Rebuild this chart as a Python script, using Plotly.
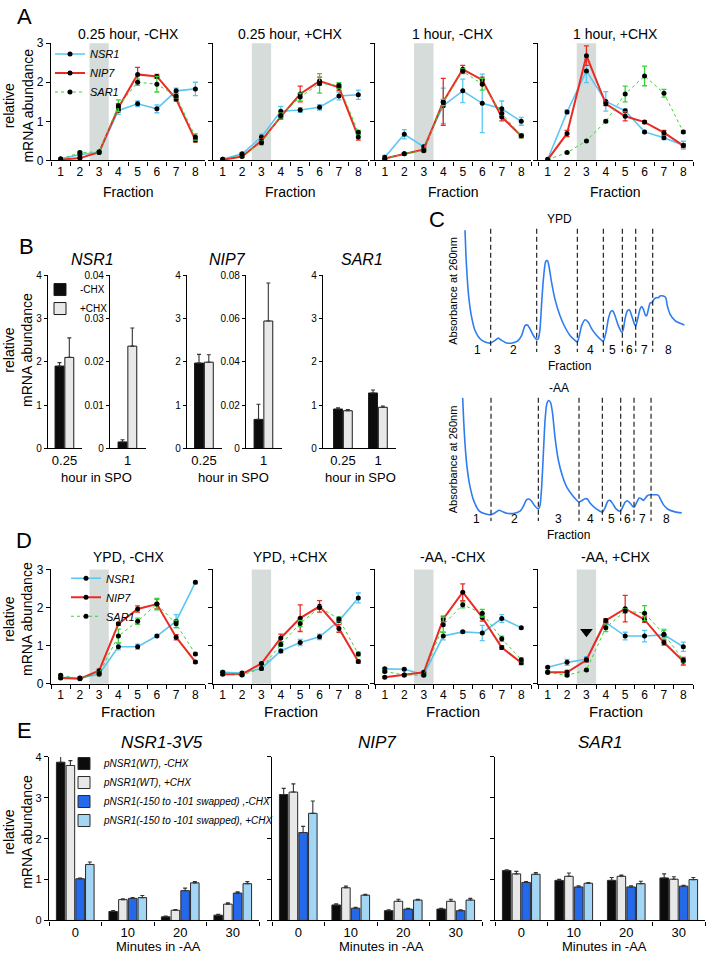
import plotly.graph_objects as go

W, H = 708, 960
FONT = "Liberation Sans, Arial, Helvetica, sans-serif"

# ---------------- Panel A / D : polysome fraction profiles ----------------
FRACTIONS = [1, 2, 3, 4, 5, 6, 7, 8]
GENES = ["NSR1", "NIP7", "SAR1"]
SHADED_FRACTION = [2.5, 3.5]

A_TITLES = ["0.25 hour, -CHX", "0.25 hour, +CHX", "1 hour, -CHX", "1 hour, +CHX"]
A_NSR1 = [[0.04, 0.15, 0.20, 1.28, 1.45, 1.32, 1.78, 1.83],
          [0.03, 0.17, 0.60, 1.26, 1.29, 1.36, 1.65, 1.68],
          [0.08, 0.67, 0.35, 1.40, 1.78, 1.46, 1.32, 1.00],
          [0.03, 1.24, 2.29, 1.51, 1.27, 0.73, 0.58, 0.39]]
A_NSR1_ERR = [[0.02, 0.04, 0.03, 0.10, 0.07, 0.10, 0.07, 0.17],
              [0.01, 0.03, 0.07, 0.12, 0.06, 0.07, 0.10, 0.12],
              [0.05, 0.12, 0.05, 0.45, 0.30, 0.75, 0.20, 0.10],
              [0.02, 0.05, 0.30, 0.25, 0.05, 0.04, 0.05, 0.10]]
A_NIP7 = [[0.02, 0.06, 0.21, 1.35, 2.20, 2.15, 1.57, 0.52],
          [0.02, 0.10, 0.50, 1.12, 1.70, 2.03, 1.87, 0.60],
          [0.05, 0.17, 0.28, 1.50, 2.33, 2.06, 1.11, 0.63],
          [0.02, 0.69, 2.68, 1.45, 1.13, 0.98, 0.71, 0.38]]
A_NIP7_ERR = [[0.01, 0.02, 0.02, 0.10, 0.18, 0.05, 0.05, 0.05],
              [0.01, 0.02, 0.05, 0.06, 0.20, 0.10, 0.08, 0.08],
              [0.02, 0.03, 0.04, 0.60, 0.10, 0.07, 0.10, 0.05],
              [0.01, 0.08, 0.25, 0.05, 0.12, 0.04, 0.06, 0.05]]
A_SAR1 = [[0.03, 0.20, 0.22, 1.40, 2.00, 1.95, 1.65, 0.60],
          [0.03, 0.15, 0.45, 1.15, 1.62, 1.97, 1.92, 0.72],
          [0.05, 0.17, 0.25, 1.48, 2.28, 1.95, 1.20, 0.63],
          [0.02, 0.20, 0.50, 1.00, 1.70, 2.16, 1.72, 0.73]]
A_SAR1_ERR = [[0.01, 0.03, 0.02, 0.15, 0.08, 0.20, 0.05, 0.08],
              [0.01, 0.03, 0.05, 0.06, 0.10, 0.25, 0.07, 0.05],
              [0.02, 0.03, 0.03, 0.08, 0.06, 0.15, 0.05, 0.05],
              [0.01, 0.02, 0.02, 0.03, 0.20, 0.25, 0.10, 0.04]]

D_TITLES = ["YPD, -CHX", "YPD, +CHX", "-AA, -CHX", "-AA, +CHX"]
D_NSR1 = [[0.17, 0.15, 0.25, 0.97, 0.97, 1.25, 1.64, 2.66],
          [0.30, 0.28, 0.40, 0.86, 1.08, 1.23, 1.65, 2.25],
          [0.39, 0.38, 0.24, 1.25, 1.36, 1.33, 1.71, 1.47],
          [0.43, 0.56, 0.64, 1.61, 1.25, 1.25, 1.28, 0.97]]
D_NSR1_ERR = [[0.03, 0.03, 0.04, 0.08, 0.07, 0.03, 0.17, 0.04],
              [0.03, 0.03, 0.03, 0.05, 0.08, 0.07, 0.05, 0.13],
              [0.03, 0.03, 0.03, 0.10, 0.03, 0.20, 0.10, 0.03],
              [0.03, 0.08, 0.07, 0.10, 0.10, 0.15, 0.15, 0.12]]
D_NIP7 = [[0.15, 0.13, 0.34, 1.57, 1.96, 2.09, 1.22, 0.57],
          [0.25, 0.25, 0.53, 1.20, 1.72, 2.03, 1.45, 0.58],
          [0.17, 0.23, 0.30, 1.70, 2.40, 1.74, 0.95, 0.55],
          [0.30, 0.30, 0.62, 1.66, 1.97, 1.68, 1.08, 0.59]]
D_NIP7_ERR = [[0.02, 0.02, 0.04, 0.04, 0.08, 0.13, 0.07, 0.03],
              [0.03, 0.03, 0.03, 0.10, 0.35, 0.15, 0.10, 0.04],
              [0.02, 0.02, 0.03, 0.07, 0.22, 0.10, 0.05, 0.05],
              [0.03, 0.05, 0.05, 0.05, 0.35, 0.07, 0.07, 0.10]]
D_SAR1 = [[0.22, 0.14, 0.27, 1.25, 1.64, 2.09, 1.57, 0.78],
          [0.30, 0.23, 0.40, 1.03, 1.58, 2.00, 1.70, 0.78],
          [0.32, 0.23, 0.22, 1.55, 2.07, 1.85, 1.18, 0.63],
          [0.30, 0.22, 0.36, 1.47, 1.91, 1.85, 1.30, 0.62]]
D_SAR1_ERR = [[0.03, 0.02, 0.03, 0.18, 0.08, 0.15, 0.10, 0.03],
              [0.03, 0.03, 0.03, 0.05, 0.08, 0.05, 0.05, 0.05],
              [0.03, 0.02, 0.03, 0.20, 0.08, 0.10, 0.07, 0.05],
              [0.03, 0.03, 0.03, 0.10, 0.05, 0.20, 0.10, 0.05]]
D_ARROW_FRACTION = [3]
D_ARROW_LEVEL = [1.36]

# ---------------- Panel B ----------------
B_HOURS = ["0.25", "1"]
B_NSR1_MINUS = [1.90, 0.0015]
B_NSR1_MINUS_ERR = [0.08, 0.0005]
B_NSR1_PLUS = [2.10, 0.0236]
B_NSR1_PLUS_ERR = [0.45, 0.0042]
B_NIP7_MINUS = [1.97, 0.0134]
B_NIP7_MINUS_ERR = [0.20, 0.0070]
B_NIP7_PLUS = [1.99, 0.0588]
B_NIP7_PLUS_ERR = [0.17, 0.0175]
B_SAR1_MINUS = [0.91, 1.28]
B_SAR1_MINUS_ERR = [0.03, 0.07]
B_SAR1_PLUS = [0.87, 0.95]
B_SAR1_PLUS_ERR = [0.03, 0.03]

# ---------------- Panel C : A260 profiles ----------------
C_YPD_POS = [285, 288, 292, 297, 305, 315, 330, 345, 362, 375, 385, 395, 410, 430, 445, 455,
             465, 472, 480, 490, 500, 505, 510, 515, 520, 527, 532, 537, 545, 555, 570, 585,
             600, 615, 622, 628, 635, 645, 655, 665, 680, 695, 700, 708, 715, 722, 728, 735,
             745, 755, 760, 765, 772, 778, 785, 793, 797, 803, 810, 815, 820, 826, 830, 835,
             840, 845, 852, 858, 865, 870, 880, 887, 892, 900, 915, 930, 943]
C_YPD_ABS = [360, 280, 210, 150, 95, 55, 30, 20, 17, 25, 32, 25, 17, 18, 25, 40,
             70, 72, 60, 40, 28, 30, 60, 140, 210, 265, 268, 250, 200, 150, 100, 65,
             40, 25, 20, 40, 70, 88, 80, 60, 40, 25, 22, 50, 90, 112, 115, 100,
             70, 50, 60, 90, 115, 118, 100, 75, 68, 90, 120, 128, 120, 102, 100, 120,
             138, 140, 150, 155, 155, 160, 160, 155, 130, 105, 85, 77, 72]
C_YPD_BOUNDS = [362, 500, 622, 700, 757, 797, 848]

C_AA_POS = [278, 281, 285, 291, 300, 312, 328, 345, 363, 375, 387, 397, 410, 430, 450, 460,
            470, 477, 485, 495, 505, 510, 515, 520, 525, 530, 536, 542, 548, 555, 565, 578,
            592, 610, 627, 635, 645, 652, 660, 675, 690, 697, 705, 713, 720, 728, 738, 750,
            757, 765, 772, 780, 788, 793, 800, 808, 815, 820, 826, 832, 840, 848, 860, 866,
            872, 880, 895, 915, 935]
C_AA_ABS = [420, 350, 280, 210, 150, 105, 75, 67, 64, 70, 78, 74, 69, 68, 75, 90,
            110, 112, 105, 90, 82, 92, 150, 250, 350, 400, 412, 405, 370, 300, 230, 180,
            145, 120, 103, 107, 113, 112, 100, 85, 75, 72, 85, 105, 108, 98, 82, 75,
            85, 102, 107, 100, 90, 88, 102, 115, 112, 108, 115, 122, 125, 125, 125, 122,
            110, 95, 80, 73, 70]
C_AA_BOUNDS = [363, 505, 627, 697, 752, 792, 843]
C_FRACTION_LABELS = ["1", "2", "3", "4", "5", "6", "7", "8"]

# ---------------- Panel E ----------------
E_MINUTES = [0, 10, 20, 30]
E_SERIES = ["pNSR1(WT), -CHX", "pNSR1(WT), +CHX",
            "pNSR1(-150 to -101 swapped) ,-CHX", "pNSR1(-150 to -101 swapped), +CHX"]
E_TITLES = ["NSR1-3V5", "NIP7", "SAR1"]
E_NSR1 = [[3.87, 0.22, 0.09, 0.13], [3.79, 0.51, 0.25, 0.40],
          [1.02, 0.54, 0.73, 0.67], [1.37, 0.56, 0.92, 0.90]]
E_NSR1_ERR = [[0.18, 0.02, 0.02, 0.02], [0.12, 0.02, 0.02, 0.03],
              [0.02, 0.02, 0.06, 0.03], [0.06, 0.05, 0.03, 0.05]]
E_NIP7 = [[3.08, 0.38, 0.24, 0.28], [3.14, 0.80, 0.47, 0.47],
          [2.15, 0.30, 0.28, 0.24], [2.62, 0.62, 0.50, 0.50]]
E_NIP7_ERR = [[0.15, 0.03, 0.02, 0.02], [0.20, 0.04, 0.05, 0.05],
              [0.15, 0.02, 0.02, 0.02], [0.30, 0.02, 0.02, 0.04]]
E_SAR1 = [[1.22, 0.98, 0.98, 1.04], [1.14, 1.08, 1.08, 1.01],
          [0.93, 0.82, 0.82, 0.84], [1.13, 0.91, 0.90, 1.00]]
E_SAR1_ERR = [[0.02, 0.03, 0.07, 0.10], [0.06, 0.08, 0.03, 0.06],
              [0.02, 0.03, 0.03, 0.02], [0.04, 0.02, 0.06, 0.05]]

# ======================================================================
LINE_STYLE = {
    "NSR1": dict(color="#5ac6f2", width=1.6, dash="solid"),
    "NIP7": dict(color="#ec2a24", width=2.0, dash="solid"),
    "SAR1": dict(color="#36d436", width=1.0, dash="dot"),
}
BAR_B_COLORS = ["#0c0c0c", "#e8e8e8"]
E_COLORS = ["#0c0c0c", "#e8e8e8", "#2469ea", "#a3d6f5"]

fig = go.Figure()
axes = {}
shapes = []
annotations = []


def ax_keys(n):
    s = "" if n == 1 else str(n)
    return "xaxis" + s, "yaxis" + s, "x" + s, "y" + s


def dom_x(a, b):
    return [a / W, b / W]


def dom_y(top, bottom):
    return [1 - bottom / H, 1 - top / H]


def add_text(text, x, y, size=13, angle=0, italic=False, xanchor="center", yanchor="middle"):
    annotations.append(dict(text=text, x=x / W, y=1 - y / H, xref="paper", yref="paper",
                            showarrow=False, textangle=angle, xanchor=xanchor, yanchor=yanchor,
                            font=dict(size=size, family=FONT, color="black",
                                      style="italic" if italic else "normal")))


AXLINE = dict(showline=True, linecolor="black", linewidth=1.2, showgrid=False,
              zeroline=False, fixedrange=True)

FRAC_X = [(51, 205), (213, 368), (375, 531), (538, 693)]


def fraction_panel(n0, top, bottom, titles, means, errs, legend_key, title_y,
                   frac_title_y, frac_title_size):
    for i in range(4):
        n = n0 + i
        xa, ya, xr, yr = ax_keys(n)
        x0, x1 = FRAC_X[i]
        axes[xa] = dict(domain=dom_x(x0, x1), anchor=yr, range=[0.5, 8.5], tickmode="array",
                        tickvals=FRACTIONS, ticks="", tickfont=dict(size=12),
                        ticklabelstandoff=0,
                        minor=dict(tickmode="linear", tick0=0.5, dtick=1, ticks="outside",
                                   ticklen=4, tickcolor="black", tickwidth=1.2),
                        **AXLINE)
        axes[ya] = dict(domain=dom_y(top, bottom), anchor=xr, range=[0, 3], tickmode="array",
                        tickvals=[0, 1, 2, 3], ticks="outside", ticklen=4, tickcolor="black",
                        tickwidth=1.2, showticklabels=(i == 0),
                        tickfont=dict(size=12), **AXLINE)
        shapes.append(dict(type="rect", xref=xr, yref=yr + " domain",
                           x0=SHADED_FRACTION[0], x1=SHADED_FRACTION[1], y0=0, y1=1,
                           fillcolor="#d5dcda", line_width=0, layer="below"))
        for g in GENES:
            st = LINE_STYLE[g]
            fig.add_trace(go.Scatter(
                x=FRACTIONS, y=means[g][i], mode="lines+markers", name=g,
                line=st, marker=dict(color="black", size=5),
                error_y=dict(type="data", array=errs[g][i], color=st["color"],
                             thickness=1.3, width=2.5),
                xaxis=xr, yaxis=yr, legend=legend_key, showlegend=(i == 0)))
        add_text(titles[i], (x0 + x1) / 2, title_y, size=14)
        add_text("Fraction", (x0 + x1) / 2, frac_title_y, size=frac_title_size)


# ---------------- Panel A ----------------
fraction_panel(1, 36.7, 155.7, A_TITLES,
               {"NSR1": A_NSR1, "NIP7": A_NIP7, "SAR1": A_SAR1},
               {"NSR1": A_NSR1_ERR, "NIP7": A_NIP7_ERR, "SAR1": A_SAR1_ERR},
               "legend", 27, 188, 14)

# ---------------- Panel B ----------------
B_UNIT = 35.0
B_TOP, B_BOT = 272, 448


def b_axes(n, x0, x1, center0, cats, yrange, tickvals, ticktext):
    xa, ya, xr, yr = ax_keys(n)
    axes[xa] = dict(domain=dom_x(x0, x1), anchor=yr, type="category", categoryorder="array",
                    categoryarray=cats, range=[(x0 - center0) / B_UNIT, (x1 - center0) / B_UNIT],
                    ticks="", tickfont=dict(size=13), ticklabelstandoff=0, **AXLINE)
    axes[ya] = dict(domain=dom_y(B_TOP, B_BOT), anchor=xr, range=yrange, tickmode="array",
                    tickvals=tickvals, ticktext=ticktext, ticks="outside", ticklen=3,
                    tickcolor="black", tickwidth=1.1, tickfont=dict(size=10), **AXLINE)
    return xr, yr


def b_bars(xr, yr, cats, minus, minus_err, plus, plus_err, show):
    for vals, errs, color, name, off in ((minus, minus_err, BAR_B_COLORS[0], "-CHX", -0.27),
                                         (plus, plus_err, BAR_B_COLORS[1], "+CHX", 0.01)):
        fig.add_trace(go.Bar(
            x=cats, y=vals, width=0.255, offset=off, name=name,
            marker=dict(color=color, line=dict(color="#1a1a1a", width=1)),
            error_y=dict(type="data", symmetric=False, array=errs, arrayminus=[0] * len(errs),
                         color="#333333", thickness=1.1, width=2),
            xaxis=xr, yaxis=yr, legend="legend2", showlegend=show))


FOUR = [0, 1, 2, 3, 4]
xr, yr = b_axes(5, 48, 82, 64.5, B_HOURS[:1], [0, 4], FOUR, [str(v) for v in FOUR])
b_bars(xr, yr, B_HOURS[:1], B_NSR1_MINUS[:1], B_NSR1_MINUS_ERR[:1],
       B_NSR1_PLUS[:1], B_NSR1_PLUS_ERR[:1], True)
xr, yr = b_axes(6, 110, 146, 127.5, B_HOURS[1:], [0, 0.04],
                [0, 0.01, 0.02, 0.03, 0.04], ["0", "0.01", "0.02", "0.03", "0.04"])
b_bars(xr, yr, B_HOURS[1:], B_NSR1_MINUS[1:], B_NSR1_MINUS_ERR[1:],
       B_NSR1_PLUS[1:], B_NSR1_PLUS_ERR[1:], False)
xr, yr = b_axes(7, 187, 222, 204, B_HOURS[:1], [0, 4], FOUR, [str(v) for v in FOUR])
b_bars(xr, yr, B_HOURS[:1], B_NIP7_MINUS[:1], B_NIP7_MINUS_ERR[:1],
       B_NIP7_PLUS[:1], B_NIP7_PLUS_ERR[:1], False)
xr, yr = b_axes(8, 246, 282, 263.5, B_HOURS[1:], [0, 0.08],
                [0, 0.02, 0.04, 0.06, 0.08], ["0", "0.02", "0.04", "0.06", "0.08"])
b_bars(xr, yr, B_HOURS[1:], B_NIP7_MINUS[1:], B_NIP7_MINUS_ERR[1:],
       B_NIP7_PLUS[1:], B_NIP7_PLUS_ERR[1:], False)
xr, yr = b_axes(9, 323, 396, 343, B_HOURS, [0, 4], FOUR, [str(v) for v in FOUR])
b_bars(xr, yr, B_HOURS, B_SAR1_MINUS, B_SAR1_MINUS_ERR, B_SAR1_PLUS, B_SAR1_PLUS_ERR, False)

add_text("NSR1", 92, 256, size=16, italic=True)
add_text("NIP7", 228, 256, size=16, italic=True)
add_text("SAR1", 362, 256, size=16, italic=True)
for cx in (96, 233, 360):
    add_text("hour in SPO", cx, 477, size=13)

# ---------------- Panel C ----------------


def c_profile(n, top_px, bot_px, yrange, pos, absb, bounds, line_top, line_bot, label_y):
    xa, ya, xr, yr = ax_keys(n)
    axes[xa] = dict(domain=dom_x(455, 691.7), anchor=yr, range=[255, 965], visible=False,
                    fixedrange=True)
    axes[ya] = dict(domain=dom_y(top_px, bot_px), anchor=xr, range=yrange, visible=False,
                    fixedrange=True)
    fig.add_trace(go.Scatter(x=pos, y=absb, mode="lines",
                             line=dict(color="#2f7cf0", width=1.6, shape="spline", smoothing=0.6),
                             showlegend=False, xaxis=xr, yaxis=yr))
    dx, dy = [], []
    for b in bounds:
        dx += [b, b, None]
        dy += [line_top, line_bot, None]
    fig.add_trace(go.Scatter(x=dx, y=dy, mode="lines",
                             line=dict(color="#222222", width=1.2, dash="5px,3px"),
                             showlegend=False, xaxis=xr, yaxis=yr))
    edges = [pos[0]] + bounds + [pos[-1]]
    for k, lab in enumerate(C_FRACTION_LABELS):
        annotations.append(dict(text=lab, x=(edges[k] + edges[k + 1]) / 2, y=label_y,
                                xref=xr, yref=yr, showarrow=False,
                                font=dict(size=12, family=FONT, color="black")))


c_profile(10, 213.3, 370, [-70, 400], C_YPD_POS, C_YPD_ABS, C_YPD_BOUNDS, 365, -10, -3)
c_profile(11, 383.3, 560, [-70, 460], C_AA_POS, C_AA_ABS, C_AA_BOUNDS, 420, 45, 51)
add_text("YPD", 559, 215, size=12)
add_text("-AA", 559, 387, size=12)
add_text("Fraction", 569, 364, size=12)
add_text("Fraction", 568, 536, size=12)
add_text("Absorbance at 260nm", 453, 288, size=11, angle=-90)
add_text("Absorbance at 260nm", 453, 459, size=11, angle=-90)

# ---------------- Panel D ----------------
fraction_panel(12, 570.7, 686.7, D_TITLES,
               {"NSR1": D_NSR1, "NIP7": D_NIP7, "SAR1": D_SAR1},
               {"NSR1": D_NSR1_ERR, "NIP7": D_NIP7_ERR, "SAR1": D_SAR1_ERR},
               "legend3", 558, 715, 15)
fig.add_trace(go.Scatter(x=D_ARROW_FRACTION, y=D_ARROW_LEVEL, mode="markers",
                         marker=dict(symbol="triangle-down", size=11, color="black"),
                         showlegend=False, xaxis="x15", yaxis="y15"))

# ---------------- Panel E ----------------
E_X = [(49, 259), (272, 482), (495, 705)]
E_DATA = [(E_NSR1, E_NSR1_ERR), (E_NIP7, E_NIP7_ERR), (E_SAR1, E_SAR1_ERR)]
for i in range(3):
    n = 16 + i
    xa, ya, xr, yr = ax_keys(n)
    x0, x1 = E_X[i]
    axes[xa] = dict(domain=dom_x(x0, x1), anchor=yr, range=[-5, 35], tickmode="array",
                    tickvals=E_MINUTES, ticks="", tickfont=dict(size=13), ticklabelstandoff=0,
                    minor=dict(tickmode="linear", tick0=-5, dtick=10, ticks="outside",
                               ticklen=4, tickcolor="black", tickwidth=1.2),
                    **AXLINE)
    axes[ya] = dict(domain=dom_y(761, 927), anchor=xr, range=[0, 4], tickmode="array",
                    tickvals=[0, 1, 2, 3, 4], ticks="outside", ticklen=4, tickcolor="black",
                    tickwidth=1.2, showticklabels=(i == 0), tickfont=dict(size=11), **AXLINE)
    vals, errs = E_DATA[i]
    for j in range(4):
        fig.add_trace(go.Bar(
            x=E_MINUTES, y=vals[j], name=E_SERIES[j],
            marker=dict(color=E_COLORS[j], line=dict(color="#2a2a2a", width=1)),
            error_y=dict(type="data", symmetric=False, array=errs[j],
                         arrayminus=[0] * len(errs[j]), color="#333333", thickness=1.1, width=2),
            xaxis=xr, yaxis=yr, legend="legend4", showlegend=(i == 0)))
    add_text(E_TITLES[i], (x0 + x1) / 2 + (8 if i == 0 else 0), 746, size=17, italic=True)
    add_text("Minutes in -AA", (x0 + x1) / 2 + 4, 953, size=13)

# ---------------- labels common ----------------
for letter, (lx, ly) in zip("ABCDE", [(24, 10), (26, 243), (437, 216), (24, 541), (24, 734)]):
    add_text(letter, lx, ly, size=22)
for cy in (100, 348, 621, 837):
    add_text("relative<br>mRNA abundance", 18, cy, size=14, angle=-90)

fig.update_layout(
    width=W, height=H, margin=dict(l=0, r=0, t=0, b=0, pad=0),
    paper_bgcolor="white", plot_bgcolor="rgba(0,0,0,0)",
    font=dict(family=FONT, color="black", size=12),
    barmode="group", bargap=0.26, bargroupgap=0.12,
    showlegend=True, shapes=shapes, annotations=annotations,
    legend=dict(x=50 / W, y=1 - 33 / H, xanchor="left", yanchor="top",
                bgcolor="rgba(0,0,0,0)", font=dict(size=11, style="italic"),
                tracegroupgap=0, itemwidth=30),
    legend2=dict(x=40 / W, y=1 - 272 / H, xanchor="left", yanchor="top",
                 bgcolor="rgba(0,0,0,0)", font=dict(size=10), tracegroupgap=0, itemwidth=30),
    legend3=dict(x=66 / W, y=1 - 565 / H, xanchor="left", yanchor="top",
                 bgcolor="rgba(0,0,0,0)", font=dict(size=11, style="italic"),
                 tracegroupgap=0, itemwidth=30),
    legend4=dict(x=64 / W, y=1 - 753 / H, xanchor="left", yanchor="top",
                 bgcolor="rgba(0,0,0,0)", font=dict(size=10, style="italic"),
                 tracegroupgap=0, itemwidth=30),
    **axes,
)

fig.write_html("out.html", config={"displayModeBar": False},
               post_script="document.body.style.margin='0';document.body.style.padding='0';")
